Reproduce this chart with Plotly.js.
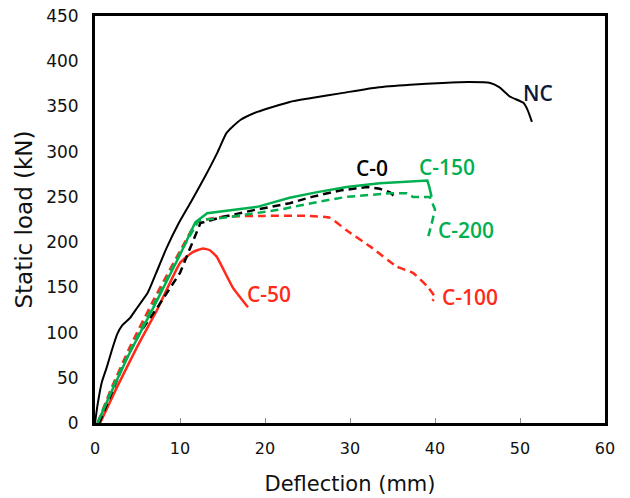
<!DOCTYPE html>
<html>
<head>
<meta charset="utf-8">
<script src="https://cdn.plot.ly/plotly-3.0.1.min.js"></script>
<style>html,body{margin:0;padding:0;background:#fff;}#chart{width:630px;height:498px;}</style>
</head>
<body>
<div id="chart"></div>
<script>
// Deflection (mm) / Static load (kN)
const ncX = [0, 0.3, 0.8, 1.4, 2.0, 2.6, 3.2, 4.1, 5.0, 6.2, 7.2, 8.4, 9.8, 11.2, 12.8, 14.4, 15.5, 17.1, 19.1, 22.9, 25.3, 29.2, 33.2, 37.1, 40.9, 44.0, 46.5, 47.6, 48.8, 50.4, 50.9, 51.4];
const ncY = [0, 20, 45, 62, 81, 98, 108, 116, 128, 144, 166, 193, 220, 243, 270, 299, 321, 335, 344, 355, 359, 365, 371, 374, 376, 377, 376, 371, 361, 354, 346, 333];

const c0X = [0.5, 2.0, 3.5, 5.3, 7.5, 10.0, 12.4, 15.1, 19.0, 22.9, 25.5, 28.8, 32.0, 33.5, 34.7, 35.3];
const c0Y = [0, 35, 68, 100, 130, 166, 221, 228, 236, 243, 250, 257, 261, 259, 255, 250];

const c50X = [0.6, 2.5, 5.0, 7.3, 10.0, 11.5, 12.7, 13.5, 14.3, 16.2, 18.0];
const c50Y = [0, 38, 85, 125, 177, 189, 193, 191, 184, 150, 128];

const c100X = [0.3, 2.0, 4.0, 7.0, 10.0, 12.0, 15.0, 20.0, 25.0, 27.6, 29.6, 32.4, 35.5, 37.4, 39.1, 40.0, 39.7];
const c100Y = [0, 40, 82, 138, 190, 222, 228, 229, 229, 227, 213, 195, 173, 166, 151, 139, 135];

const c150X = [0.3, 2.0, 4.0, 7.0, 10.0, 11.8, 13.2, 16.0, 19.1, 22.9, 26.0, 29.6, 33.5, 39.1, 39.3, 39.6];
const c150Y = [0, 36, 76, 130, 186, 222, 232, 235, 239, 249, 255, 261, 265, 268, 262, 250];

const c200X = [0.3, 2.0, 4.0, 7.0, 10.0, 12.2, 16.0, 21.8, 26.5, 29.6, 34.7, 36.7, 37.4, 39.4, 40.0, 39.6, 39.2];
const c200Y = [0, 38, 78, 133, 188, 224, 228, 236, 245, 250, 254, 254, 250, 250, 236, 220, 206];

const labels = ['NC', 'C-0', 'C-150', 'C-200', 'C-50', 'C-100'];
const xTicks = [0, 10, 20, 30, 40, 50, 60];
const yTicks = [0, 50, 100, 150, 200, 250, 300, 350, 400, 450];

const BLACK = '#000000', GREEN = '#00B050', RED = '#FF2A1A';

const traces = [
  {x: ncX, y: ncY, mode: 'lines', line: {color: BLACK, width: 2, shape: 'spline', smoothing: 0.5}},
  {x: c50X, y: c50Y, mode: 'lines', line: {color: RED, width: 2.5, shape: 'spline', smoothing: 0.4}},
  {x: c100X, y: c100Y, mode: 'lines', line: {color: RED, width: 2.5, dash: '8px,5px', shape: 'spline', smoothing: 0.4}},
  {x: c0X, y: c0Y, mode: 'lines', line: {color: BLACK, width: 2.5, dash: '8px,5px'}},
  {x: c200X, y: c200Y, mode: 'lines', line: {color: GREEN, width: 2.5, dash: '8px,5px'}},
  {x: c150X, y: c150Y, mode: 'lines', line: {color: GREEN, width: 2.5}}
];

const lblFont = (c) => ({family: 'Open Sans, Noto Sans, sans-serif', size: 21, color: c, weight: 600});
const annotations = [
  {x: 52.1, y: 365, text: labels[0], font: lblFont('#0a1a3a')},
  {x: 32.6, y: 282, text: labels[1], font: lblFont(BLACK)},
  {x: 41.4, y: 283, text: labels[2], font: lblFont(GREEN)},
  {x: 43.6, y: 213, text: labels[3], font: lblFont(GREEN)},
  {x: 20.5, y: 143, text: labels[4], font: lblFont(RED)},
  {x: 44.1, y: 139, text: labels[5], font: lblFont(RED)}
].map(a => Object.assign({xref: 'x', yref: 'y', showarrow: false}, a));

const layout = {
  width: 630, height: 498,
  margin: {l: 95, r: 25, t: 16, b: 75},
  paper_bgcolor: '#fff', plot_bgcolor: '#fff',
  showlegend: false,
  font: {family: 'DejaVu Sans, sans-serif', color: '#111'},
  xaxis: {
    range: [0, 60], tickvals: xTicks, ticktext: xTicks.map(String),
    ticks: 'inside', ticklen: 5, tickcolor: '#888', tickwidth: 1,
    ticklabelstandoff: 9,
    showgrid: false, zeroline: false,
    showline: true, mirror: true, linecolor: '#000', linewidth: 3,
    tickfont: {size: 16, color: '#111'},
    title: {text: 'Deflection (mm)', font: {size: 21, color: '#111'}, standoff: 20}
  },
  yaxis: {
    range: [0, 450], tickvals: yTicks, ticktext: yTicks.map(String),
    ticks: '', ticklabelstandoff: 10, showgrid: false, zeroline: false,
    showline: true, mirror: true, linecolor: '#000', linewidth: 3,
    tickfont: {size: 17, color: '#111'},
    title: {text: 'Static load (kN)', font: {size: 23, color: '#111'}, standoff: 8}
  },
  annotations: annotations
};

Plotly.newPlot('chart', traces, layout, {displayModeBar: false, staticPlot: true});
</script>
</body>
</html>
